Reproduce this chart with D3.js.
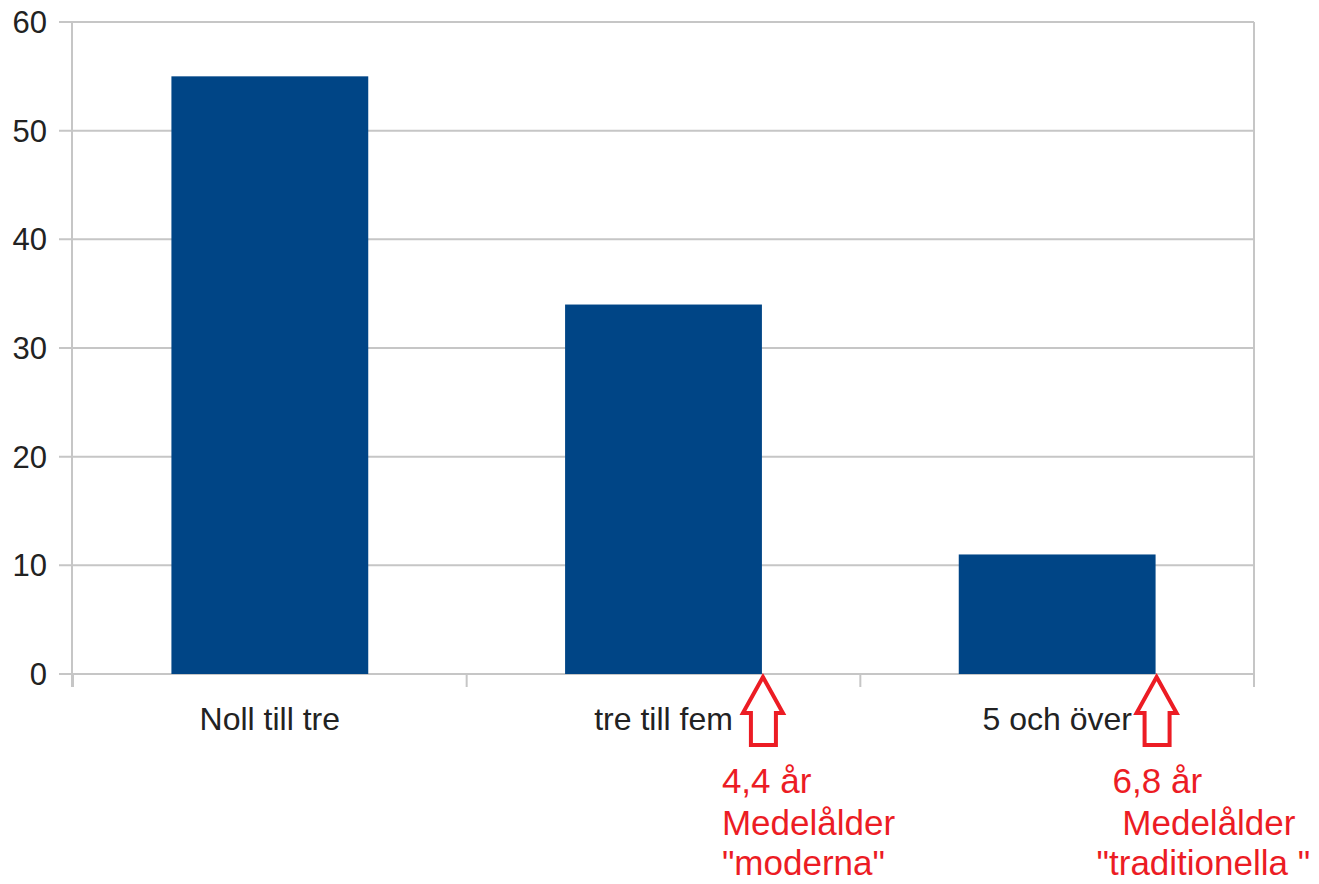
<!DOCTYPE html>
<html>
<head>
<meta charset="utf-8">
<script src="https://cdn.jsdelivr.net/npm/d3@7"></script>
<style>
body{margin:0;background:#fff}
text{font-family:"Liberation Sans",Arial,sans-serif}
</style>
</head>
<body>
<script>
// data
var categories = ["Noll till tre", "tre till fem", "5 och över"]
var values = [55, 34, 11]
var yTicks = [0, 10, 20, 30, 40, 50, 60]
var noteCats = ["tre till fem", "5 och över"]
var noteLines = [
	["4,4 år", "Medelålder", "\"moderna\""],
	["6,8 år", " Medelålder", "\"traditionella \""]
]

var width = 1319, height = 884
// note: "top" is reserved on window, so plot edges get a prefix
var plotL = 73, plotR = 1254, plotT = 22, plotB = 674
var grid = "#c6c6c6"

var svg = d3.select("body").append("svg")
	.attr("width", width)
	.attr("height", height)

var x = d3.scaleBand().domain(categories).range([plotL, plotR])
	.paddingInner(0.5).paddingOuter(0.25)
var y = d3.scaleLinear().domain([0, 60]).range([plotB, plotT])

// gridlines
svg.append("g").selectAll("line")
	.data(yTicks)
	.enter().append("line")
	.attr("x1", plotL - 14).attr("x2", plotR)
	.attr("y1", function(d){return y(d)}).attr("y2", function(d){return y(d)})
	.attr("stroke", grid).attr("stroke-width", 2)

// y axis line
svg.append("line").attr("x1", plotL - 1).attr("x2", plotL - 1)
	.attr("y1", plotT).attr("y2", plotB + 13)
	.attr("stroke", grid).attr("stroke-width", 2)

// category separators on x axis (last one is the right border)
var seps = [plotL].concat(categories.map(function(c){return x(c) + x.step() * 0.75}))
seps[seps.length - 1] = plotR
svg.append("g").selectAll("line")
	.data(seps)
	.enter().append("line")
	.attr("x1", function(d){return d}).attr("x2", function(d){return d})
	.attr("y1", function(d){return d == plotR ? plotT : plotB}).attr("y2", plotB + 13)
	.attr("stroke", grid).attr("stroke-width", 2)

// y labels
svg.append("g").selectAll("text")
	.data(yTicks)
	.enter().append("text")
	.attr("x", 47)
	.attr("y", function(d){return y(d) + 11})
	.attr("text-anchor", "end")
	.attr("font-size", 31)
	.attr("fill", "#222")
	.text(function(d){return d})

// bars
svg.append("g").selectAll("rect")
	.data(values)
	.enter().append("rect")
	.attr("x", function(d, i){return x(categories[i])})
	.attr("y", function(d){return y(d)})
	.attr("width", x.bandwidth())
	.attr("height", function(d){return y(0) - y(d)})
	.attr("fill", "#004586")

// x labels
svg.append("g").selectAll("text")
	.data(categories)
	.enter().append("text")
	.attr("x", function(d){return x(d) + x.bandwidth() / 2})
	.attr("y", 730)
	.attr("text-anchor", "middle")
	.attr("font-size", 32)
	.attr("fill", "#222")
	.text(function(d){return d})

// red arrows + notes
var red = "#ec1c24"
var textX = [[-41, -41, -41], [-44, -44, -60]]
var textY = [793, 835, 875]
noteCats.forEach(function(c, i){
	var tx = x(c) + x.bandwidth() + 1
	var ty = plotB + 3
	var p = "M" + tx + "," + ty +
		" L" + (tx + 20) + "," + (ty + 36) +
		" L" + (tx + 13) + "," + (ty + 36) +
		" L" + (tx + 13) + "," + (ty + 68) +
		" L" + (tx - 12) + "," + (ty + 68) +
		" L" + (tx - 12) + "," + (ty + 36) +
		" L" + (tx - 20) + "," + (ty + 36) + " Z"
	svg.append("path").attr("d", p)
		.attr("fill", "#fff").attr("stroke", red).attr("stroke-width", 4)
		.attr("stroke-linejoin", "miter")
	svg.append("g").selectAll("text")
		.data(noteLines[i])
		.enter().append("text")
		.attr("x", function(d, j){return tx + textX[i][j]})
		.attr("y", function(d, j){return textY[j]})
		.attr("font-size", 35)
		.attr("fill", red)
		.attr("xml:space", "preserve")
		.style("white-space", "pre")
		.text(function(d){return d})
})
</script>
</body>
</html>
